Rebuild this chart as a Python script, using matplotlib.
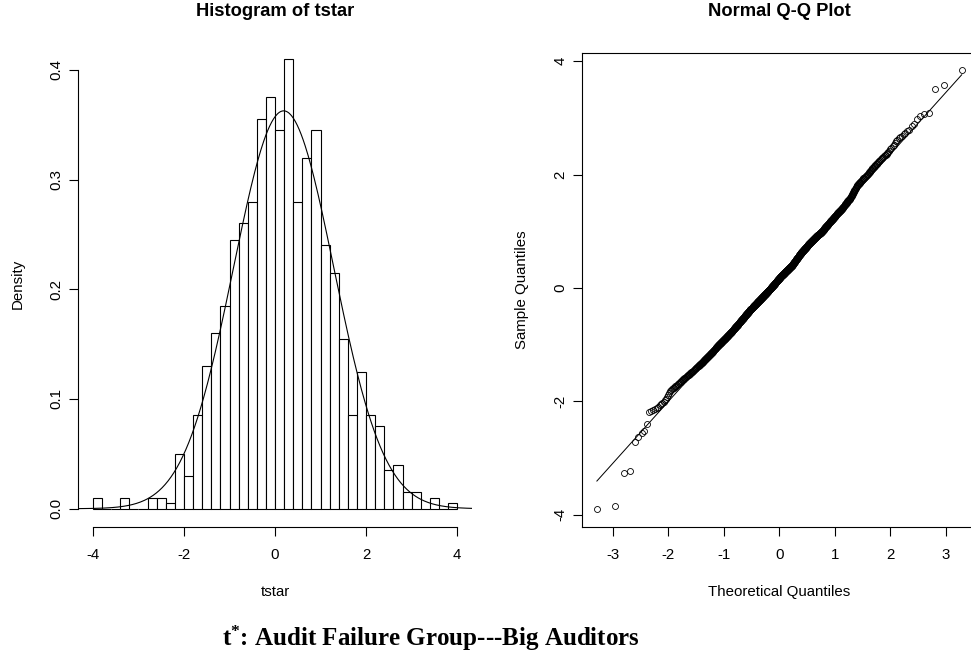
import numpy as np
import matplotlib
matplotlib.use("Agg")
import matplotlib.pyplot as plt
from statistics import NormalDist

# ---------------- data ----------------
breaks = np.round(np.linspace(-4.0, 4.0, 41), 1)           # histogram breaks, width 0.2
counts = [2, 0, 0, 2, 0, 0, 2, 2, 1, 10,
          6, 17, 26, 32, 37, 49, 52, 56, 71, 75,
          69, 82, 56, 64, 69, 48, 43, 31, 17, 25,
          17, 15, 7, 8, 3, 3, 0, 2, 0, 1]                   # n = 1000
# isolated tail observations read off the Q-Q plot
tail_values = [-3.90, -3.85, -3.26, -3.23, -2.72, -2.63, -2.56, -2.52, -2.39,
               2.86, 2.90, 2.98, 3.03, 3.06, 3.08, 3.51, 3.58, 3.84]

hist_xticks = [-4, -2, 0, 2, 4]
hist_yticks = [0.0, 0.1, 0.2, 0.3, 0.4]
qq_xticks = [-3, -2, -1, 0, 1, 2, 3]
qq_yticks = [-4, -2, 0, 2, 4]

title_hist = "Histogram of tstar"
title_qq = "Normal Q-Q Plot"
caption = r"$\mathbf{t^{*}}$: Audit Failure Group---Big Auditors"

# ---------------- rebuild the sample from the bins ----------------
vals = []
for lo, hi, c in zip(breaks[:-1], breaks[1:], counts):
    fixed = [v for v in tail_values if lo <= v < hi]
    vals.extend(fixed)
    m = c - len(fixed)
    if m > 0:
        vals.extend(lo + (np.arange(m) + 0.5) / m * (hi - lo))
tstar = np.sort(np.array(vals))
n = len(tstar)
width = breaks[1] - breaks[0]
density = np.array(counts) / (n * width)

# ---------------- style ----------------
plt.rcParams["font.family"] = ["Liberation Sans", "DejaVu Sans"]
plt.rcParams["mathtext.fontset"] = "custom"
plt.rcParams["mathtext.bf"] = "Liberation Serif:bold"
plt.rcParams["mathtext.rm"] = "Liberation Serif:bold"
FS = 10.8
LW = 0.8

W, H = 971, 652
fig = plt.figure(figsize=(W / 100, H / 100), dpi=100)

def px_axes(l, t, r, b):
    return [l / W, 1 - b / H, (r - l) / W, (b - t) / H]

# ---------------- histogram ----------------
L_l, L_t, L_r, L_b = 78.3, 40.9, 471.8, 526.7
ax1 = fig.add_axes(px_axes(L_l, L_t, L_r, L_b))
ax1.bar(breaks[:-1], density, width=width, align="edge",
        facecolor="white", edgecolor="black", linewidth=LW, zorder=2)
mu, sd = tstar.mean(), tstar.std(ddof=1)
xlim1 = (-4 - 0.04 * 8, 4 + 0.04 * 8)
xs = np.linspace(xlim1[0], xlim1[1], 400)
nd = NormalDist(mu, sd)
ax1.plot(xs, [nd.pdf(x) for x in xs], color="black", lw=LW, zorder=3)
ymax = max(density.max(), nd.pdf(mu))
ax1.set_xlim(*xlim1)
ax1.set_ylim(-0.04 * ymax, ymax * 1.04)
for s in ["top", "right"]:
    ax1.spines[s].set_visible(False)
ax1.spines["left"].set_bounds(0, 0.4)
ax1.spines["bottom"].set_bounds(-4, 4)
ax1.set_xticks(hist_xticks)
ax1.set_xticklabels([str(v) for v in hist_xticks])
ax1.set_yticks(hist_yticks)
ax1.set_yticklabels([f"{v:.1f}" for v in hist_yticks])
ax1.set_title(title_hist, fontsize=13.2, fontweight="bold",
              y=(L_b - 20) / (L_b - L_t), va="center")
ax1.set_xlabel("tstar", fontsize=FS)
ax1.set_ylabel("Density", fontsize=FS)
ax1.xaxis.label.set_va("center")
ax1.yaxis.label.set_va("center")
ax1.xaxis.set_label_coords(0.5, (L_b - 591.7) / (L_b - L_t))
ax1.yaxis.set_label_coords((18 - L_l) / (L_r - L_l), 0.5)

# ---------------- Q-Q plot ----------------
R_l, R_t, R_r, R_b = 582.3, 52.7, 976.3, 526.7
ax2 = fig.add_axes(px_axes(R_l, R_t, R_r, R_b))
theo = np.array([NormalDist().inv_cdf((i + 0.5) / n) for i in range(n)])
ax2.plot(theo, tstar, "o", mfc="none", mec="black", ms=4.3, mew=0.6, zorder=3)
q1, q3 = np.quantile(tstar, [0.25, 0.75])
z1, z3 = NormalDist().inv_cdf(0.25), NormalDist().inv_cdf(0.75)
slope = (q3 - q1) / (z3 - z1)
icpt = q1 - slope * z1
xl = np.array([theo.min(), theo.max()])
ax2.plot(xl, icpt + slope * xl, color="black", lw=LW * 0.9, zorder=2)
rx = theo.max() - theo.min()
ry = tstar.max() - tstar.min()
ax2.set_xlim(theo.min() - 0.04 * rx, theo.max() + 0.04 * rx)
ax2.set_ylim(tstar.min() - 0.04 * ry, tstar.max() + 0.04 * ry)
ax2.set_xticks(qq_xticks)
ax2.set_xticklabels([str(v) for v in qq_xticks])
ax2.set_yticks(qq_yticks)
ax2.set_yticklabels([str(v) for v in qq_yticks])
ax2.set_title(title_qq, fontsize=13.2, fontweight="bold",
              y=(R_b - 20) / (R_b - R_t), va="center")
ax2.set_xlabel("Theoretical Quantiles", fontsize=FS)
ax2.set_ylabel("Sample Quantiles", fontsize=FS)
ax2.xaxis.label.set_va("center")
ax2.yaxis.label.set_va("center")
ax2.xaxis.set_label_coords(0.5, (R_b - 591.7) / (R_b - R_t))
ax2.yaxis.set_label_coords((521.7 - R_l) / (R_r - R_l), 0.5)

for ax in (ax1, ax2):
    for s in ax.spines.values():
        s.set_linewidth(LW)
        s.set_color("black")
    ax.tick_params(axis="both", direction="out", length=6.5, width=LW,
                   labelsize=FS, colors="black")
    ax.tick_params(axis="x", pad=8.5)
    ax.tick_params(axis="y", pad=4.2, labelrotation=90)
    for lab in ax.get_yticklabels():
        lab.set_va("center")

fig.text(431 / W, 1 - 638 / H, caption, fontsize=18,
         family=["Liberation Serif", "DejaVu Serif"], fontweight="bold",
         ha="center", va="center")

fig.savefig("out.png", dpi=100)
